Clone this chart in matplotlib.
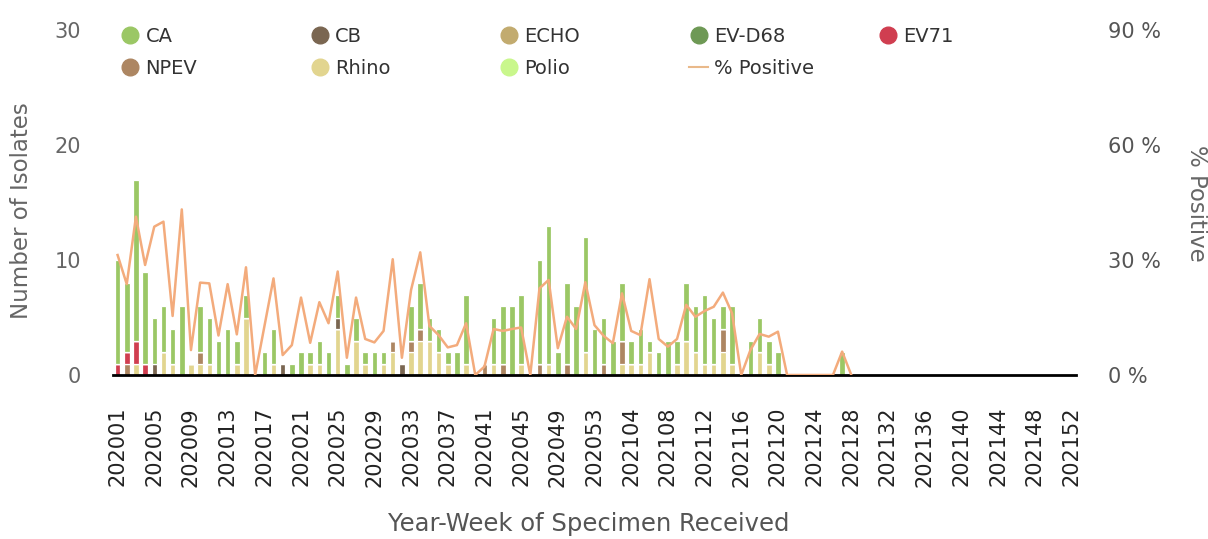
import numpy as np
import matplotlib
matplotlib.use('Agg')
import matplotlib.pyplot as plt
from matplotlib.lines import Line2D
from matplotlib.transforms import ScaledTranslation

# week categories 202001..202053, 202101..202152
weeks = [f'2020{w:02d}' for w in range(1, 54)] + [f'2021{w:02d}' for w in range(1, 53)]
n_weeks = len(weeks)
n_empty = 25  # weeks after 202127 with no isolates

ca = [9, 6, 14, 8, 4, 4, 3, 6, 0, 4, 4, 3, 4, 2, 2, 0, 2, 3, 0, 1,
      2, 1, 2, 2, 2, 1, 2, 1, 2, 1, 0, 0, 3, 4, 2, 2, 1, 2, 6, 0,
      0, 4, 5, 6, 6, 0, 9, 12, 2, 7, 6, 10, 4, 4, 3, 5, 2, 3, 1, 2,
      3, 2, 5, 4, 6, 4, 2, 5, 0, 3, 3, 2, 2, 0, 0, 0, 0, 0, 0, 2] + [0] * n_empty
cb = [0, 0, 0, 0, 1, 0, 0, 0, 0, 0, 0, 0, 0, 0, 0, 0, 0, 0, 1, 0,
      0, 0, 0, 0, 1, 0, 0, 0, 0, 0, 0, 1, 0, 0, 0, 0, 0, 0, 0, 0,
      0, 0, 0, 0, 0, 0, 0, 0, 0, 0, 0, 0, 0, 0, 0, 0, 0, 0, 0, 0,
      0, 0, 0, 0, 0, 0, 0, 0, 0, 0, 0, 0, 0, 0, 0, 0, 0, 0, 0, 0] + [0] * n_empty
echo = [0] * n_weeks
evd68 = [0] * n_weeks
ev71 = [1, 1, 2, 1] + [0] * (n_weeks - 4)
npev = [0, 1, 0, 0, 0, 0, 0, 0, 0, 1, 0, 0, 0, 0, 0, 0, 0, 0, 0, 0,
        0, 0, 0, 0, 0, 0, 0, 0, 0, 0, 1, 0, 1, 1, 0, 0, 0, 0, 0, 0,
        1, 0, 1, 0, 0, 0, 1, 0, 0, 1, 0, 0, 0, 1, 0, 2, 0, 0, 0, 0,
        0, 0, 0, 0, 0, 0, 2, 0, 0, 0, 0, 0, 0, 0, 0, 0, 0, 0, 0, 0] + [0] * n_empty
rhino = [0, 0, 1, 0, 0, 2, 1, 0, 1, 1, 1, 0, 0, 1, 5, 0, 0, 1, 0, 0,
         0, 1, 1, 0, 4, 0, 3, 1, 0, 1, 2, 0, 2, 3, 3, 2, 1, 0, 1, 0,
         0, 1, 0, 0, 1, 0, 0, 1, 0, 0, 0, 2, 0, 0, 0, 1, 1, 1, 2, 0,
         0, 1, 3, 2, 1, 1, 2, 1, 0, 0, 2, 1, 0, 0, 0, 0, 0, 0, 0, 0] + [0] * n_empty
polio = [0] * n_weeks

pct_positive = [31.3, 23.7, 41.3, 28.7, 38.7, 40.0, 15.4, 43.2, 6.5, 24.1,
                23.9, 10.3, 23.7, 10.6, 28.1, 0, 12.6, 25.2, 5.2, 7.8,
                20.2, 8.4, 19.0, 13.5, 27.0, 4.5, 20.2, 9.4, 8.5, 11.5,
                30.2, 4.5, 22.2, 32.0, 12.8, 10.4, 7.2, 7.8, 13.5, 0,
                2.2, 12.0, 11.5, 12.0, 12.4, 0, 22.6, 24.8, 7.0, 15.2,
                12.0, 24.2, 13.0, 10.2, 8.3, 21.3, 11.5, 10.4, 25.0, 9.4,
                7.4, 9.4, 18.3, 15.2, 16.7, 17.8, 21.5, 16.1, 0, 6.5,
                10.7, 10.0, 11.3, 0, 0, 0, 0, 0, 0, 6.1, 0] + [np.nan] * 24

series = [('CA', ca, '#9bc765'), ('CB', cb, '#7a6651'), ('ECHO', echo, '#c2ab6f'),
          ('EV-D68', evd68, '#6e9955'), ('EV71', ev71, '#d03e50'),
          ('NPEV', npev, '#ad8662'), ('Rhino', rhino, '#e2d58f'), ('Polio', polio, '#c9f78c')]
line_color = '#f3ab7c'

fig = plt.figure(figsize=(12.08, 5.39), dpi=100)
W, H = 1208, 539
ax = fig.add_axes([113 / W, 1 - 375 / H, (1076 - 113) / W, (375 - 30) / H])
x = np.arange(n_weeks)

# first series sits on top, so stack from the last one upward
bottom = np.zeros(n_weeks)
for name, vals, color in reversed(series):
    vals = np.array(vals, dtype=float)
    ax.bar(x, vals, width=0.6, bottom=bottom, color=color, edgecolor='white', linewidth=0.9, zorder=2)
    bottom += vals

ax.set_xlim(-0.5, n_weeks - 0.5)
ax.set_ylim(0, 30)
ax.set_yticks([0, 10, 20, 30])
ax.set_xticks(x[::4])
ax.set_xticklabels(weeks[::4], rotation=90, fontsize=15, color='#222222')
for lbl in ax.get_xticklabels():
    lbl.set_transform(lbl.get_transform() + ScaledTranslation(8.5 / 100, 0, fig.dpi_scale_trans))
ax.tick_params(axis='x', length=0, pad=23)
ax.tick_params(axis='y', length=0, pad=23, labelsize=15, labelcolor='#666666')
for s in ['top', 'left', 'right']:
    ax.spines[s].set_visible(False)
ax.spines['bottom'].set_color('black')
ax.spines['bottom'].set_linewidth(2)
ax.spines['bottom'].set_zorder(4)

ax2 = ax.twinx()
ax2.plot(x, pct_positive, color=line_color, lw=1.8, zorder=3)
ax2.set_ylim(0, 90)
ax2.set_yticks([0, 30, 60, 90])
ax2.set_yticklabels(['0 %', '30 %', '60 %', '90 %'])
ax2.tick_params(axis='y', length=0, pad=23, labelsize=15, labelcolor='#555555')
for s in ax2.spines.values():
    s.set_visible(False)

fig.text(22 / W, 1 - 211 / H, 'Number of Isolates', rotation=90, ha='center', va='center',
         fontsize=16.5, color='#666666')
fig.text(1197 / W, 1 - 203 / H, '% Positive', rotation=270, ha='center', va='center',
         fontsize=16.5, color='#666666')
fig.text(589 / W, 1 - 524 / H, 'Year-Week of Specimen Received', ha='center', va='center',
         fontsize=17.5, color='#555555')

# legend laid out on a fixed grid, like the original
entries = [(Line2D([], [], ls='', marker='o', ms=12, color=c), name) for name, _, c in series]
entries.append((Line2D([], [], color='#e9b98a', lw=1.5), '% Positive'))
for i, (h, label) in enumerate(entries):
    col, row = i % 5, i // 5
    cx = 130 + 189.5 * col - 9.7
    cy = 36 + 32 * row
    leg = fig.legend([h], [label], loc='center left', bbox_to_anchor=(cx / W, 1 - cy / H),
                     bbox_transform=fig.transFigure, frameon=False, fontsize=14,
                     handlelength=1.0, handletextpad=0.3, borderpad=0, borderaxespad=0)
    for t in leg.get_texts():
        t.set_color('#333333')

fig.savefig('out.png', dpi=100, facecolor='white')
